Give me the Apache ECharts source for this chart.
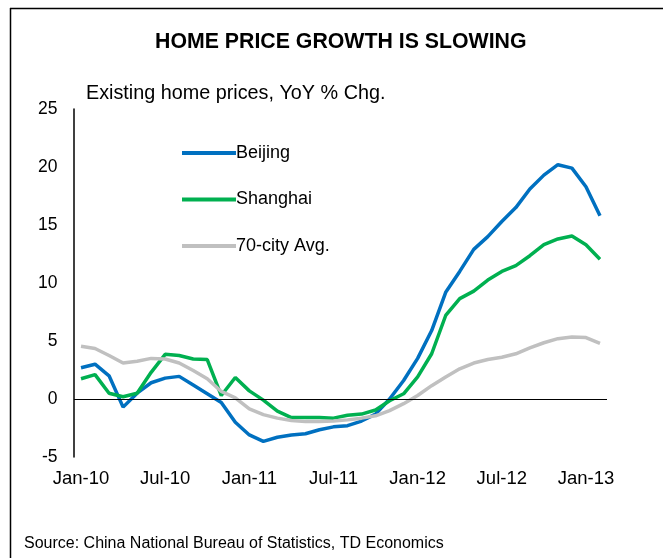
<!DOCTYPE html>
<html>
<head>
<meta charset="utf-8">
<script src="https://cdn.jsdelivr.net/npm/echarts@6/dist/echarts.min.js"></script>
<style>
html,body{margin:0;padding:0;background:#fff;}
#chart{width:663px;height:558px;}
</style>
</head>
<body>
<div id="chart"></div>
<script>
var months = ['Jan','Feb','Mar','Apr','May','Jun','Jul','Aug','Sep','Oct','Nov','Dec'];
var categories = [];
for (var y = 10; y <= 13; y++) {
  for (var m = 0; m < 12; m++) {
    if (y === 13 && m > 1) break;
    categories.push(months[m] + '-' + y);
  }
}
var beijing = [2.7, 3.0, 2.0, -0.7, 0.5, 1.4, 1.8, 1.95, 1.2, 0.45, -0.3, -2.0, -3.1, -3.65, -3.3, -3.1, -3.0, -2.65, -2.4,
  -2.3, -1.9, -1.3, 0.0, 1.6, 3.5, 5.9, 9.2, 11.0, 12.9, 14.0, 15.3, 16.5, 18.1, 19.3, 20.2, 19.9, 18.3, 15.8];
var shanghai = [1.75, 2.1, 0.5, 0.2, 0.5, 2.3, 3.85, 3.75, 3.45, 3.4, 0.3, 1.85, 0.7, -0.1, -1.05, -1.6, -1.6, -1.6, -1.65,
  -1.4, -1.3, -0.95, -0.15, 0.45, 1.9, 3.9, 7.2, 8.65, 9.3, 10.25, 11.0, 11.5, 12.35, 13.3, 13.8, 14.05, 13.3, 12.05];
var avg70 = [4.55, 4.35, 3.75, 3.1, 3.25, 3.5, 3.45, 3.1, 2.45, 1.75, 0.65, 0.1, -0.85, -1.35, -1.65, -1.85, -1.95, -1.95, -1.9,
  -1.8, -1.65, -1.45, -1.0, -0.4, 0.3, 1.15, 1.9, 2.6, 3.1, 3.4, 3.6, 3.9, 4.4, 4.85, 5.2, 5.35, 5.3, 4.8];
var yTicks = [-5, 0, 5, 10, 15, 20, 25];

var font = '"Liberation Sans", Arial, sans-serif';
var chart = echarts.init(document.getElementById('chart'), null, {renderer: 'canvas'});
chart.setOption({
  backgroundColor: '#fff',
  animation: false,
  textStyle: {fontFamily: font},
  title: [
    {text: 'HOME PRICE GROWTH IS SLOWING', left: 150, top: 27,
     textStyle: {fontFamily: font, fontSize: 21.3, fontWeight: 'bold', color: '#000'}},
    {text: 'Existing home prices, YoY % Chg.', left: 81, top: 79,
     textStyle: {fontFamily: font, fontSize: 19.8, fontWeight: 'normal', color: '#000'}},
    {text: 'Source: China National Bureau of Statistics, TD Economics', left: 19, top: 531,
     textStyle: {fontFamily: font, fontSize: 16, fontWeight: 'normal', color: '#000'}}
  ],
  graphic: [
    {type: 'line', shape: {x1: 10, y1: 8.5, x2: 663, y2: 8.5}, style: {stroke: '#000', lineWidth: 1.5}},
    {type: 'line', shape: {x1: 10.5, y1: 8, x2: 10.5, y2: 558}, style: {stroke: '#000', lineWidth: 1.5}}
  ],
  legend: {
    orient: 'vertical', left: 177, top: 138,
    icon: 'rect', itemWidth: 54, itemHeight: 4, itemGap: 26.5,
    textStyle: {fontFamily: font, fontSize: 18, color: '#000', lineHeight: 20, padding: [0,0,0,-5]},
    data: ['Beijing', 'Shanghai', '70-city Avg.']
  },
  grid: {left: 74, right: 56, top: 109, bottom: 101},
  xAxis: {
    type: 'category', data: categories, boundaryGap: true,
    axisLine: {show: false}, axisTick: {show: false},
    axisLabel: {interval: 5, margin: 12, fontFamily: font, fontSize: 18.5, color: '#000'},
    splitLine: {show: false}
  },
  yAxis: {
    type: 'value', min: yTicks[0], max: yTicks[yTicks.length - 1], interval: 5,
    axisLine: {show: true, lineStyle: {color: '#000', width: 1.5}},
    axisTick: {show: false},
    axisLabel: {margin: 16.5, fontFamily: font, fontSize: 17.5, color: '#000'},
    splitLine: {show: false}
  },
  series: [
    {name: 'Beijing', type: 'line', data: beijing, symbol: 'none',
     itemStyle: {color: '#0070C0'}, lineStyle: {color: '#0070C0', width: 3.5},
     markLine: {silent: true, symbol: 'none', label: {show: false},
       lineStyle: {color: '#000', width: 1.2, type: 'solid'}, data: [{yAxis: 0}]}},
    {name: 'Shanghai', type: 'line', data: shanghai, symbol: 'none',
     itemStyle: {color: '#00B050'}, lineStyle: {color: '#00B050', width: 3.5}},
    {name: '70-city Avg.', type: 'line', data: avg70, symbol: 'none',
     itemStyle: {color: '#C0C0C0'}, lineStyle: {color: '#C0C0C0', width: 3.5}}
  ]
});
</script>
</body>
</html>
